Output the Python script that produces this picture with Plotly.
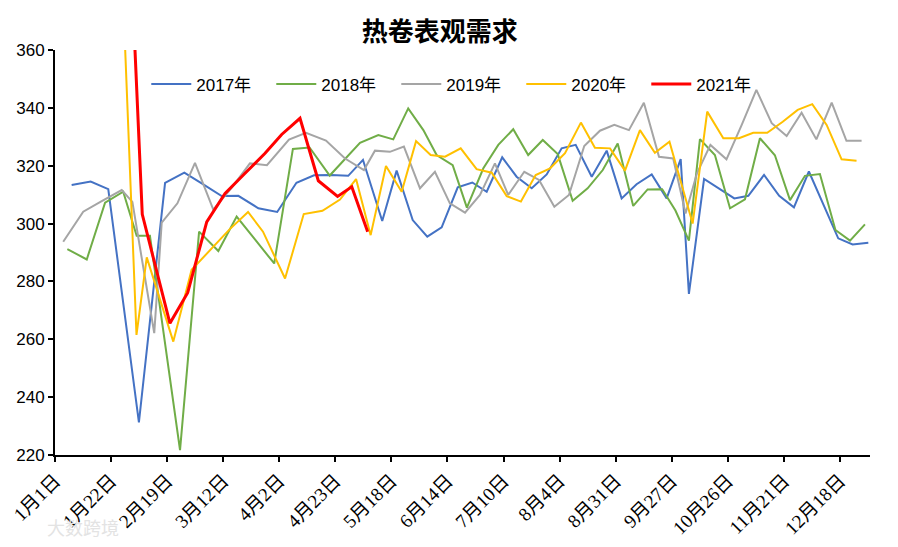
import plotly.graph_objects as go

# x positions in category-week units (tick every 3 weeks), values in 万吨
tick_labels = ["1月1日", "1月22日", "2月19日", "3月12日", "4月2日", "4月23日", "5月18日",
               "6月14日", "7月10日", "8月4日", "8月31日", "9月27日", "10月26日", "11月21日", "12月18日"]

x2017 = [0.89, 1.91, 2.85, 4.49, 5.89, 6.92, 7.85, 8.92, 9.81, 10.88, 11.89, 12.92, 13.86, 14.77,
         15.69, 16.48, 17.51, 18.28, 19.14, 19.92, 20.69, 21.55, 22.33, 23.10, 23.93, 24.70, 25.51,
         26.31, 27.11, 27.86, 28.72, 29.52, 30.32, 31.12, 31.93, 32.73, 33.48, 33.92, 34.73, 35.58,
         36.35, 37.10, 37.94, 38.75, 39.54, 40.34, 41.12, 41.91, 42.68, 43.52]
y2017 = [313.3, 314.5, 311.9, 231.3, 314.1, 317.6, 313.9, 309.5, 309.6, 305.3, 304.0, 314.1, 316.7, 316.8,
         316.5, 322.0, 300.9, 318.3, 301.2, 295.5, 298.7, 312.5, 314.2, 311.0, 322.9, 316.2, 312.2,
         317.0, 326.0, 327.2, 316.2, 325.2, 308.7, 313.6, 317.0, 308.7, 322.3, 275.7, 315.4, 311.8,
         308.7, 309.6, 316.8, 309.6, 305.6, 318.0, 306.4, 294.9, 292.8, 293.4]

x2018 = [0.66, 1.70, 2.68, 3.65, 4.37, 5.08, 6.69, 7.71, 8.74, 9.72, 10.70, 11.73, 12.73, 13.62,
         14.70, 15.52, 16.32, 17.30, 18.10, 18.90, 19.71, 20.42, 21.28, 22.04, 22.92, 23.72, 24.52,
         25.32, 26.10, 26.90, 27.70, 28.50, 29.31, 30.11, 30.94, 31.71, 32.49, 33.20, 33.92, 34.51,
         35.31, 36.12, 36.92, 37.72, 38.52, 39.33, 40.13, 40.93, 41.76, 42.54, 43.34]
y2018 = [291.2, 287.6, 307.2, 311.0, 295.8, 295.8, 221.7, 297.2, 290.5, 302.4, 294.5, 286.2, 325.8, 326.3,
         316.6, 322.2, 327.9, 330.6, 329.1, 339.8, 332.3, 323.7, 320.2, 305.5, 319.1, 327.2, 332.6,
         323.7, 328.9, 324.0, 307.9, 312.2, 318.5, 327.7, 306.1, 311.8, 311.9, 304.5, 294.1, 329.2,
         323.7, 305.3, 308.4, 329.5, 323.6, 308.1, 316.5, 317.1, 297.8, 294.1, 299.7]

x2019 = [0.44, 1.51, 2.50, 3.57, 4.14, 5.31, 5.71, 6.55, 7.49, 8.47, 9.47, 10.43, 11.34, 12.52,
         13.43, 14.50, 15.52, 16.53, 17.12, 17.92, 18.67, 19.53, 20.33, 21.13, 21.94, 22.74, 23.54,
         24.25, 25.11, 25.90, 26.72, 27.50, 28.32, 29.16, 29.93, 30.71, 31.51, 32.32, 33.08, 33.74,
         34.35, 35.07, 35.93, 36.74, 37.53, 38.35, 39.15, 39.95, 40.74, 41.56, 42.35, 43.16]
y2019 = [293.7, 304.1, 307.8, 311.6, 307.5, 262.1, 300.3, 307.0, 321.0, 304.8, 312.5, 320.8, 320.2, 329.0,
         331.4, 328.7, 322.5, 318.5, 325.2, 324.8, 326.6, 312.2, 317.9, 307.0, 303.8, 309.9, 320.8,
         309.9, 317.9, 315.1, 305.8, 309.9, 326.8, 332.1, 334.1, 332.3, 341.8, 323.1, 322.5, 303.5,
         317.4, 327.2, 322.2, 334.0, 346.2, 334.7, 330.3, 338.3, 329.1, 341.8, 328.6, 328.6]

x2020 = [3.48, 4.36, 4.91, 6.33, 7.31, 8.37, 9.34, 10.33, 11.13, 12.31, 13.31, 14.31, 15.25, 16.11,
         16.89, 17.71, 18.55, 19.32, 20.10, 20.87, 21.71, 22.56, 23.37, 24.17, 24.93, 25.72, 26.49,
         27.29, 28.14, 28.89, 29.70, 30.50, 31.30, 32.10, 32.88, 34.12, 34.90, 35.76, 36.60, 37.36,
         38.11, 38.94, 39.74, 40.52, 41.29, 42.09, 42.89]
y2020 = [405.0, 261.5, 288.3, 259.2, 284.0, 291.5, 298.0, 304.0, 297.2, 281.0, 303.3, 304.4, 308.3, 315.4,
         296.0, 319.9, 311.0, 328.5, 323.7, 323.1, 326.0, 318.8, 317.6, 309.5, 307.6, 316.8, 319.1,
         324.3, 334.9, 326.2, 326.0, 318.3, 332.3, 324.5, 328.3, 300.0, 338.7, 329.5, 329.5, 331.4,
         331.4, 335.2, 339.3, 341.3, 334.1, 322.2, 321.7]

x2021 = [3.69, 4.67, 6.15, 7.10, 8.12, 9.10, 10.17, 11.24, 12.13, 13.11, 14.09, 15.12, 15.88, 16.73]
y2021 = [446.0, 303.2, 265.5, 276.1, 300.6, 310.4, 317.4, 324.3, 330.8, 336.4, 314.8, 309.4, 312.7, 297.2]

series = [
    ("2017年", x2017, y2017, "#4472C4", 2),
    ("2018年", x2018, y2018, "#70AD47", 2),
    ("2019年", x2019, y2019, "#A5A5A5", 2),
    ("2020年", x2020, y2020, "#FFC000", 2),
    ("2021年", x2021, y2021, "#FF0000", 3),
]

fig = go.Figure()
for name, xs, ys, color, w in series:
    fig.add_trace(go.Scatter(x=xs, y=ys, name=name, mode="lines",
                             line=dict(color=color, width=w)))

fig.update_layout(
    width=890, height=539,
    margin=dict(l=47, r=28, t=42, b=92, autoexpand=False),
    paper_bgcolor="white", plot_bgcolor="white",
    title=dict(text="<b>热卷表观需求</b>", x=0.485, xanchor="center", y=0.955, yanchor="middle",
               font=dict(family="Noto Sans CJK SC", size=26, color="#000000")),
    legend=dict(orientation="h", x=0.112, xanchor="left", y=0.915, yanchor="middle",
                font=dict(family="Liberation Sans, Noto Sans CJK SC", size=17, color="#000000"),
                bgcolor="rgba(0,0,0,0)", itemwidth=40, entrywidth=70, entrywidthmode="pixels"),
    showlegend=True,
)
fig.update_xaxes(range=[0, 43.61], tickmode="array", tickvals=[3 * i for i in range(len(tick_labels))],
                 ticktext=tick_labels, tickangle=-45, showgrid=False, zeroline=False, automargin=False,
                 showline=True, linecolor="#000000", linewidth=2, ticks="outside", ticklen=5,
                 tickcolor="#000000", tickwidth=2,
                 tickfont=dict(family="Liberation Serif, Noto Sans CJK SC", size=19, color="#000000"))
fig.update_yaxes(range=[220, 360], tickmode="linear", tick0=220, dtick=20, showgrid=False,
                 zeroline=False, showline=True, linecolor="#000000", linewidth=2, ticks="outside",
                 ticklen=5, tickcolor="#000000", tickwidth=2, automargin=False,
                 tickfont=dict(family="Liberation Sans", size=17, color="#000000"))

fig.add_annotation(text="大数跨境", xref="paper", yref="paper", x=-0.012, y=-0.178, xanchor="left",
                   yanchor="middle", showarrow=False,
                   font=dict(family="Noto Sans CJK SC", size=18, color="#e3e3e3"))

fig.write_html("out.html")
